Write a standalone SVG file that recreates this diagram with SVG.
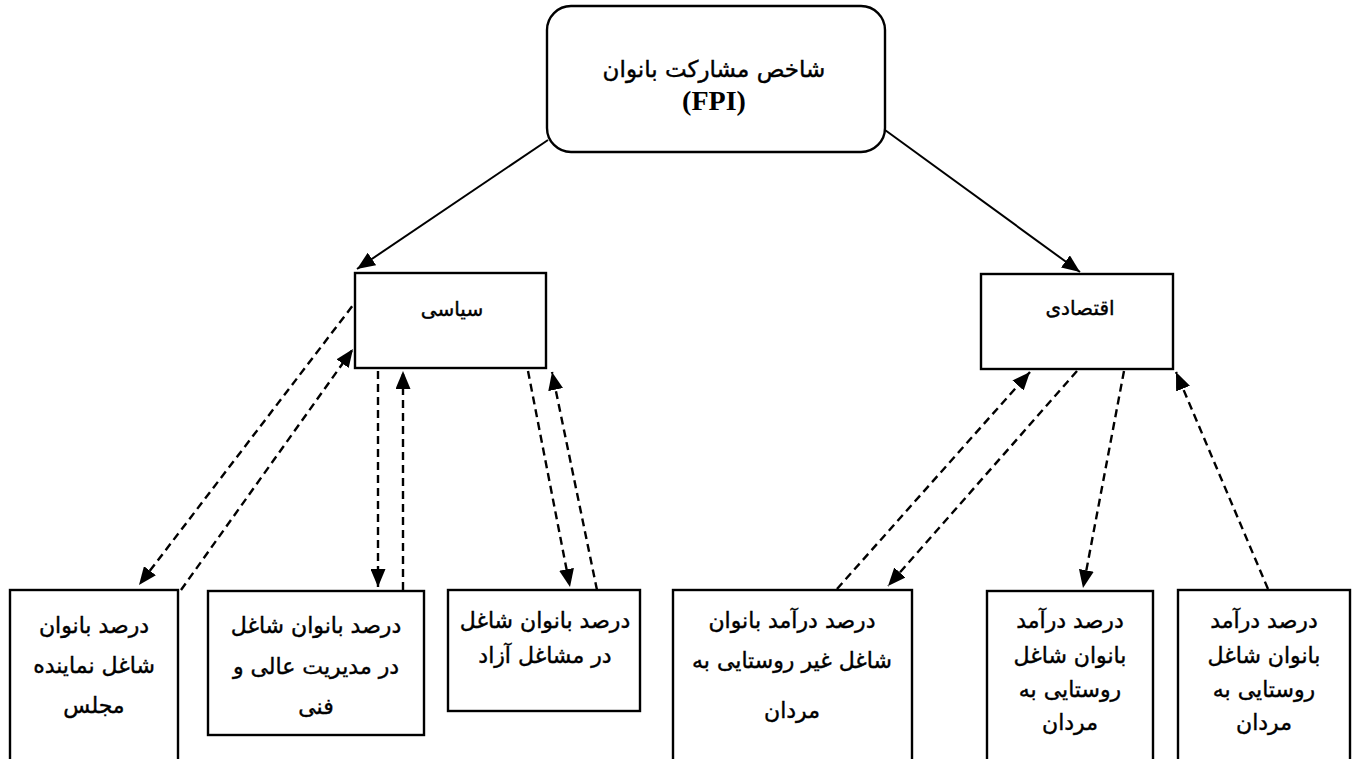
<svg xmlns="http://www.w3.org/2000/svg" width="1354" height="759" viewBox="0 0 1354 759">
<style>
.box{fill:#fff;stroke:#000;stroke-width:2.4}
.fa{font-family:"DejaVu Sans",sans-serif;font-size:22px;fill:#000;stroke:#000;stroke-width:0.4;text-anchor:middle}
.ttl{font-size:23px}
.mid{font-size:20px}
.fpi{font-family:"Liberation Serif",serif;font-weight:bold;font-size:28px;fill:#000;text-anchor:middle}
.solid{stroke:#000;stroke-width:2;fill:none;marker-end:url(#ah)}
.dash{stroke:#000;stroke-width:2.4;fill:none;stroke-dasharray:8 5;marker-end:url(#ah)}
</style>
<defs>
<marker id="ah" markerUnits="userSpaceOnUse" markerWidth="19" markerHeight="15" refX="18" refY="7.5" orient="auto">
<path d="M0,0 L18,7.5 L0,15 z" fill="#000"/>
</marker>
</defs>
<rect width="1354" height="759" fill="#fff"/>
<g id="connectors">
<line class="solid" x1="548" y1="140" x2="357" y2="269"/>
<line class="solid" x1="885" y1="130" x2="1080" y2="272"/>
<line class="dash" x1="360" y1="296" x2="139" y2="585"/>
<line class="dash" x1="181" y1="590" x2="353" y2="349"/>
<line class="dash" x1="378" y1="371" x2="378" y2="587"/>
<line class="dash" x1="403" y1="590" x2="403" y2="371"/>
<line class="dash" x1="528" y1="371" x2="570" y2="587"/>
<line class="dash" x1="597" y1="590" x2="552" y2="372"/>
<line class="dash" x1="837" y1="589" x2="1030" y2="372"/>
<line class="dash" x1="1077" y1="371" x2="888" y2="586"/>
<line class="dash" x1="1124" y1="371" x2="1083" y2="588"/>
<line class="dash" x1="1268" y1="589" x2="1176" y2="372"/>
</g>
<g id="fpi">
<rect class="box" x="547" y="6" width="338" height="146" rx="24"/>
<text class="fa ttl" x="714" y="77">شاخص مشارکت بانوان</text>
<text class="fpi" x="714" y="110">(FPI)</text>
</g>
<g id="siasi">
<rect class="box" x="355" y="273" width="191" height="95"/>
<text class="fa mid" x="452" y="316">سیاسی</text>
</g>
<g id="eghtesadi">
<rect class="box" x="981" y="274" width="192" height="95"/>
<text class="fa mid" x="1080" y="315">اقتصادی</text>
</g>
<g id="b1">
<rect class="box" x="10" y="590" width="168" height="175"/>
<text class="fa" x="94" y="633">درصد بانوان</text>
<text class="fa" x="94" y="673">شاغل نماینده</text>
<text class="fa" x="94" y="713">مجلس</text>
</g>
<g id="b2">
<rect class="box" x="208" y="591" width="216" height="144"/>
<text class="fa" x="316" y="633">درصد بانوان شاغل</text>
<text class="fa" x="316" y="674">در مدیریت عالی و</text>
<text class="fa" x="316" y="714">فنی</text>
</g>
<g id="b3">
<rect class="box" x="448" y="590" width="192" height="121"/>
<text class="fa" x="545" y="628">درصد بانوان شاغل</text>
<text class="fa" x="545" y="663">در مشاغل آزاد</text>
</g>
<g id="b4">
<rect class="box" x="673" y="590" width="239" height="175"/>
<text class="fa" x="792" y="628">درصد درآمد بانوان</text>
<text class="fa" x="792" y="668">شاغل غیر روستایی به</text>
<text class="fa" x="792" y="718">مردان</text>
</g>
<g id="b5">
<rect class="box" x="987" y="591" width="166" height="175"/>
<text class="fa" x="1070" y="628">درصد درآمد</text>
<text class="fa" x="1070" y="663">بانوان شاغل</text>
<text class="fa" x="1070" y="697">روستایی به</text>
<text class="fa" x="1070" y="730">مردان</text>
</g>
<g id="b6">
<rect class="box" x="1178" y="590" width="172" height="175"/>
<text class="fa" x="1264" y="628">درصد درآمد</text>
<text class="fa" x="1264" y="663">بانوان شاغل</text>
<text class="fa" x="1264" y="697">روستایی به</text>
<text class="fa" x="1264" y="730">مردان</text>
</g>
</svg>
